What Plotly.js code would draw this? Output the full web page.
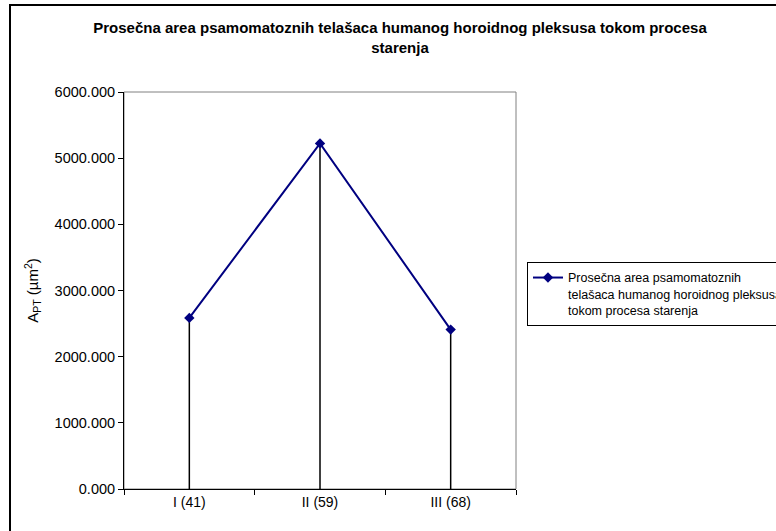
<!DOCTYPE html>
<html>
<head>
<meta charset="utf-8">
<script src="https://cdn.plot.ly/plotly-3.0.1.min.js"></script>
<style>
  html, body { margin: 0; padding: 0; background: #fff; overflow: hidden; }
  #wrap { position: relative; width: 776px; height: 531px; }
  #chart { position: absolute; left: 0; top: 0; width: 776px; height: 531px; }
  #frame { position: absolute; left: 9px; top: 4px; width: 800px; height: 560px;
           border: 2px solid #000; pointer-events: none; box-sizing: border-box; }
</style>
</head>
<body>
<div id="wrap">
  <div id="chart"></div>
  <div id="frame"></div>
</div>
<script>
const categories = ['I (41)', 'II (59)', 'III (68)'];
const values = [2586, 5223, 2409];
const seriesName = 'Prosečna area psamomatoznih<br>telašaca humanog horoidnog pleksusa<br>tokom procesa starenja';
const yTickVals = [0, 1000, 2000, 3000, 4000, 5000, 6000];
const yTickText = ['0.000', '1000.000', '2000.000', '3000.000', '4000.000', '5000.000', '6000.000'];

// drop lines built from the data
const dropX = [], dropY = [];
categories.forEach((c, i) => { dropX.push(c, c, null); dropY.push(0, values[i], null); });

const traces = [
  {
    x: dropX, y: dropY, type: 'scatter', mode: 'lines',
    line: { color: '#000000', width: 1.5 }, showlegend: false, hoverinfo: 'skip',
    connectgaps: false
  },
  {
    x: categories, y: values, type: 'scatter', mode: 'lines+markers',
    name: seriesName,
    line: { color: '#000080', width: 2 },
    marker: { symbol: 'diamond', size: 8, color: '#000080' }
  }
];

const font = 'Arial, "Liberation Sans", sans-serif';
const layout = {
  width: 776, height: 531,
  margin: { l: 124, r: 260, t: 92, b: 42, autoexpand: false },
  paper_bgcolor: '#ffffff', plot_bgcolor: '#ffffff',
  font: { family: font, size: 14, color: '#000' },
  title: {
    text: '<b>Prosečna area psamomatoznih telašaca humanog horoidnog pleksusa tokom procesa<br>starenja</b>',
    font: { family: font, size: 15, color: '#000' },
    x: 400 / 776, xref: 'container', xanchor: 'center',
    y: 1 - 33 / 531, yref: 'container', yanchor: 'top'
  },
  xaxis: {
    type: 'category', categoryorder: 'array', categoryarray: categories,
    range: [-0.5, 2.5],
    showline: true, linecolor: '#000', linewidth: 1,
    ticks: 'outside', ticklen: 5, tickcolor: '#000', tickson: 'boundaries',
    showgrid: false, zeroline: false,
    tickfont: { family: font, size: 14, color: '#000' },
    fixedrange: true
  },
  yaxis: {
    range: [0, 6000],
    tickvals: yTickVals, ticktext: yTickText,
    showline: true, linecolor: '#000', linewidth: 1,
    ticks: 'outside', ticklen: 5, tickcolor: '#000',
    showgrid: false, zeroline: false,
    tickfont: { family: font, size: 14.5, color: '#000' },
    title: { text: 'A<sub>PT</sub> (µm<sup>2</sup>)', font: { family: font, size: 15, color: '#000' }, standoff: 12 },
    fixedrange: true
  },
  shapes: [
    { type: 'rect', xref: 'paper', yref: 'paper', x0: 0, x1: 1, y0: 0, y1: 1,
      line: { color: '#808080', width: 1 }, layer: 'below' }
  ],
  legend: {
    x: 1.028, xanchor: 'left', y: 0.572, yanchor: 'top',
    bordercolor: '#000', borderwidth: 1, bgcolor: '#fff',
    font: { family: font, size: 12.5, color: '#000' },
    itemwidth: 30, tracegroupgap: 0, valign: 'top'
  },
  showlegend: true
};

Plotly.newPlot('chart', traces, layout, { displayModeBar: false, staticPlot: true });
</script>
</body>
</html>
